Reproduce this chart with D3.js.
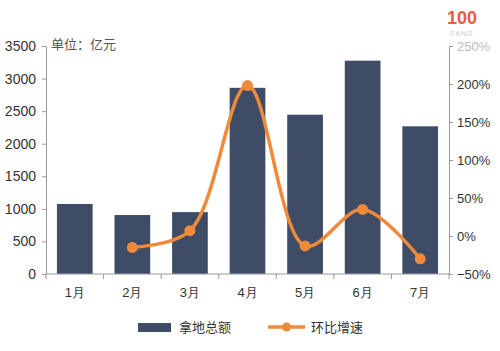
<!DOCTYPE html>
<html>
<head>
<meta charset="utf-8">
<script src="https://cdn.jsdelivr.net/npm/d3@7"></script>
<style>
  body { margin: 0; background: #fff; }
  svg { display: block; font-family: "Liberation Sans", Arial, sans-serif; }
  .axis path, .axis line { stroke: #9a9a9a; }
  .axis text { fill: #333; font-size: 13px; }
</style>
</head>
<body>
<svg class="chart"></svg>
<script>
var months = ["1月", "2月", "3月", "4月", "5月", "6月", "7月"];
var landTotal = [1075, 905, 950, 2858, 2445, 3275, 2267];
var growth = [null, -15, 7, 198, -13, 35, -30];
var leftTicks = [0, 500, 1000, 1500, 2000, 2500, 3000, 3500];
var rightTicks = [-50, 0, 50, 100, 150, 200, 250];

var margin = {top: 46, right: 51, bottom: 77, left: 46},
    width = 500 - margin.left - margin.right,
    height = 351 - margin.top - margin.bottom;

var svg = d3.select(".chart")
    .attr("width", 500)
    .attr("height", 351)
  .append("g")
    .attr("transform", "translate(" + margin.left + "," + margin.top + ")");

var x = d3.scaleBand()
    .domain(months)
    .range([0, width])
    .paddingInner(0.38)
    .paddingOuter(0.19);

var y = d3.scaleLinear()
    .domain([0, 3500])
    .range([height, 0]);

var y2 = d3.scaleLinear()
    .domain([-50, 250])
    .range([height, 0]);

// bars
svg.selectAll(".bar")
    .data(landTotal)
  .enter().append("rect")
    .attr("class", "bar")
    .attr("x", function(d, i) { return x(months[i]); })
    .attr("width", x.bandwidth())
    .attr("y", function(d) { return y(d); })
    .attr("height", function(d) { return height - y(d); })
    .attr("fill", "#3e4c66");

// left axis
svg.append("g")
    .attr("class", "y axis")
    .call(d3.axisLeft(y).tickValues(leftTicks).tickFormat(d3.format("d"))
      .tickSize(4).tickPadding(6).tickSizeOuter(0))
    .selectAll("text").style("font-size", "14px");

// right axis
svg.append("g")
    .attr("class", "y2 axis")
    .attr("transform", "translate(" + width + ",0)")
    .call(d3.axisRight(y2).tickValues(rightTicks).tickSize(4).tickPadding(4).tickSizeOuter(0)
      .tickFormat(function(d) { return (d < 0 ? "\u2212" + (-d) : d) + "%"; }))
    .selectAll("text")
    .style("font-size", "13px")
    .style("fill", function(d) { return d === 250 ? "#bbb" : "#333"; });

// x axis: ticks at the category boundaries
var xAxisG = svg.append("g")
    .attr("class", "x axis")
    .attr("transform", "translate(0," + height + ")");

xAxisG.append("line")
    .attr("x1", 0).attr("x2", width)
    .attr("stroke", "#9a9a9a");

xAxisG.selectAll(".bound")
    .data(d3.range(months.length + 1))
  .enter().append("line")
    .attr("class", "bound")
    .attr("x1", function(d) { return d * width / months.length; })
    .attr("x2", function(d) { return d * width / months.length; })
    .attr("y1", 0).attr("y2", 5)
    .attr("stroke", "#9a9a9a");

xAxisG.selectAll(".lbl")
    .data(months)
  .enter().append("text")
    .attr("class", "lbl")
    .attr("x", function(d) { return x(d) + x.bandwidth() / 2; })
    .attr("y", 23)
    .attr("text-anchor", "middle")
    .style("font-size", "13px")
    .style("fill", "#333")
    .text(function(d) { return d; });

// growth line
var pts = growth.map(function(d, i) { return {m: months[i], v: d}; })
    .filter(function(d) { return d.v !== null; });

var line = d3.line()
    .x(function(d) { return x(d.m) + x.bandwidth() / 2; })
    .y(function(d) { return y2(d.v); })
    .curve(d3.curveCatmullRom.alpha(0.5));

svg.append("path")
    .datum(pts)
    .attr("fill", "none")
    .attr("stroke", "#ef8a3a")
    .attr("stroke-width", 3.5)
    .attr("d", line);

svg.selectAll(".dot")
    .data(pts)
  .enter().append("circle")
    .attr("class", "dot")
    .attr("cx", function(d) { return x(d.m) + x.bandwidth() / 2; })
    .attr("cy", function(d) { return y2(d.v); })
    .attr("r", 5.5)
    .attr("fill", "#ef8a3a");

// unit label
svg.append("text")
    .attr("x", 5)
    .attr("y", 3)
    .style("font-family", "'Noto Sans CJK SC', sans-serif")
    .style("font-size", "13px")
    .style("fill", "#555")
    .text("单位：亿元");

// legend
var legend = d3.select(".chart").append("g")
    .attr("transform", "translate(0,327)");

legend.append("rect")
    .attr("x", 138).attr("y", -4)
    .attr("width", 33).attr("height", 9)
    .attr("fill", "#3e4c66");

legend.append("text")
    .attr("x", 179).attr("y", 5)
    .style("font-family", "'Noto Sans CJK SC', sans-serif")
    .style("font-size", "13px")
    .style("fill", "#333")
    .text("拿地总额");

legend.append("line")
    .attr("x1", 268).attr("x2", 305)
    .attr("y1", 0).attr("y2", 0)
    .attr("stroke", "#ef8a3a")
    .attr("stroke-width", 3.5);

legend.append("circle")
    .attr("cx", 286.5).attr("cy", 0).attr("r", 4.5)
    .attr("fill", "#ef8a3a");

legend.append("text")
    .attr("x", 311).attr("y", 5)
    .style("font-family", "'Noto Sans CJK SC', sans-serif")
    .style("font-size", "13px")
    .style("fill", "#333")
    .text("环比增速");

// watermark logo
var logo = d3.select(".chart").append("g");
logo.append("text")
    .attr("x", 462).attr("y", 24)
    .attr("text-anchor", "middle")
    .style("font-size", "18px")
    .style("font-weight", "bold")
    .style("fill", "#ec5a3c")
    .text("100");
logo.append("text")
    .attr("x", 462).attr("y", 36)
    .attr("text-anchor", "middle")
    .style("font-size", "7px")
    .style("fill", "#ccc")
    .style("letter-spacing", "1px")
    .text("FANG");
</script>
</body>
</html>
